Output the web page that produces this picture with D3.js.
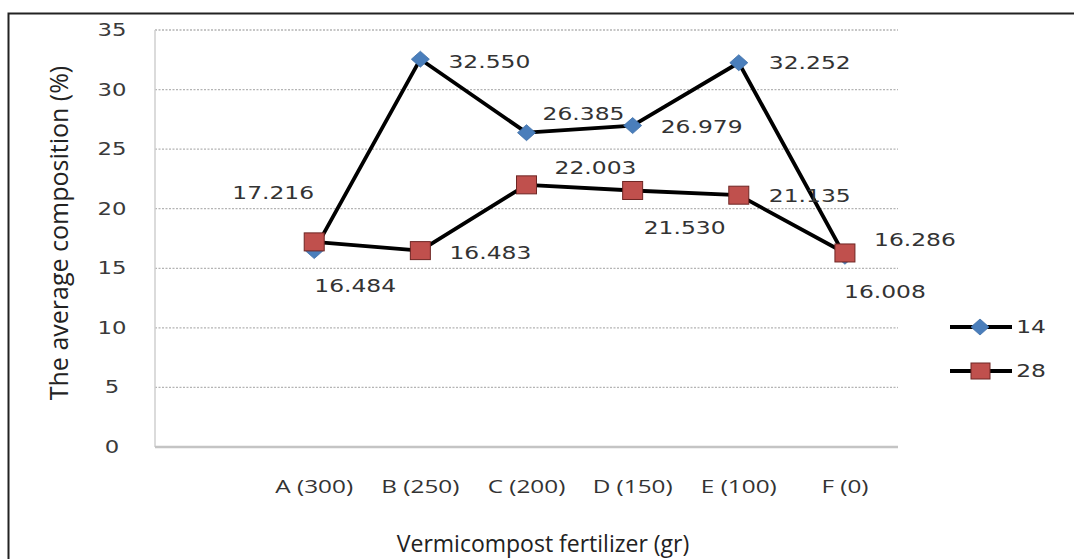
<!DOCTYPE html>
<html><head><meta charset="utf-8">
<script src="https://cdn.jsdelivr.net/npm/d3@7"></script>
<style>body{margin:0;background:#fff}svg{display:block}</style>
</head><body>
<svg id="c" width="1074" height="559"></svg>
<script>
const categories = ["", "A (300)", "B (250)", "C (200)", "D (150)", "E (100)", "F (0)"];
const seriesNames = ["14", "28"];
const series14 = [null, 16.484, 32.550, 26.385, 26.979, 32.252, 16.008];
const series28 = [null, 17.216, 16.483, 22.003, 21.530, 21.135, 16.286];
const yTicks = [0, 5, 10, 15, 20, 25, 30, 35];
// label offsets (styling): centre of label relative to marker
const off14 = [null, [41, 35], [69, 3], [57, -19], [69, 1], [71, 0], [40, 36]];
const off28 = [null, [-41, -49], [70, 2], [69, -17], [52, 37], [71, 1], [70, -13]];

const svg = d3.select("#c");
const W = 1074, H = 559;
svg.append("rect").attr("x", 8.5).attr("y", 13.5).attr("width", W + 20).attr("height", H + 20)
  .attr("fill", "#fff").attr("stroke", "#222").attr("stroke-width", 2);

const m = {l: 155, r: 898, t: 30, b: 447};
const x = d3.scalePoint().domain(categories).range([m.l, m.r]).padding(0.5);
const y = d3.scaleLinear().domain([0, 35]).range([m.b, m.t]);

const DV = "DejaVu Sans, Verdana, sans-serif";
const OS = "Open Sans, sans-serif";
function stxt(g, tx, ty, str, size, sx, fam, fill) {
  return g.append("text").attr("transform", `translate(${tx},${ty}) scale(${sx},1)`)
    .attr("text-anchor", "middle").attr("dominant-baseline", "central")
    .attr("font-family", fam).attr("font-size", size).attr("fill", fill || "#333").text(str);
}

// gridlines
svg.append("g").selectAll("line").data(yTicks.filter(d => d > 0)).join("line")
  .attr("x1", m.l).attr("x2", m.r).attr("y1", d => y(d)).attr("y2", d => y(d))
  .attr("stroke", "#b4b4b4").attr("stroke-width", 1.3).attr("stroke-dasharray", "2,1.5");

// axes
svg.append("line").attr("x1", m.l).attr("x2", m.l).attr("y1", m.t).attr("y2", m.b)
  .attr("stroke", "#cfcfcf").attr("stroke-width", 1.5);
svg.append("line").attr("x1", m.l).attr("x2", m.r).attr("y1", m.b).attr("y2", m.b)
  .attr("stroke", "#c4c4c4").attr("stroke-width", 2.5);

// y tick labels
const gy = svg.append("g");
yTicks.forEach(t => stxt(gy, 112, y(t), d3.format("d")(t), 17.5, 1.3, DV, "#3a3a3a"));

// x tick labels
const gx = svg.append("g");
categories.forEach(c => { if (c) stxt(gx, x(c), 486, c, 19, 1.28, OS, "#333"); });

// titles
stxt(svg, 543, 543, "Vermicompost fertilizer (gr)", 23, 1, OS, "#222");
svg.append("text").attr("transform", "translate(58,233) rotate(-90)").attr("text-anchor", "middle")
  .attr("dominant-baseline", "central")
  .attr("font-family", OS).attr("font-size", 25).attr("fill", "#222")
  .text("The average composition (%)");

const line = d3.line().x(d => x(d.c)).y(d => y(d.v));
function pts(vals) { return categories.map((c, i) => ({c, v: vals[i], i})).filter(d => d.v != null); }
const d14 = pts(series14), d28 = pts(series28);
const diamondPath = "M0,-8L9,0L0,8L-9,0Z";

function drawLine(data) {
  svg.append("path").datum(data).attr("d", line).attr("fill", "none")
    .attr("stroke", "#000").attr("stroke-width", 3.8).attr("stroke-linejoin", "round");
}
drawLine(d14); drawLine(d28);

svg.append("g").selectAll("path").data(d14).join("path")
  .attr("d", diamondPath).attr("transform", d => `translate(${x(d.c)},${y(d.v)})`)
  .attr("fill", "#4a7ebb").attr("stroke", "#3d6ea8").attr("stroke-width", 0.8);
svg.append("g").selectAll("rect").data(d28).join("rect")
  .attr("x", d => x(d.c) - 10).attr("y", d => y(d.v) - 9).attr("width", 20).attr("height", 18)
  .attr("fill", "#c0504d").attr("stroke", "#6e2624").attr("stroke-width", 1);

function labels(data, offs) {
  const g = svg.append("g");
  data.forEach(d => stxt(g, x(d.c) + offs[d.i][0], y(d.v) + offs[d.i][1], d.v.toFixed(3), 18, 1.3, DV, "#333"));
}
labels(d14, off14); labels(d28, off28);

// legend
const lg = [{n: seriesNames[0], y: 327, t: "d"}, {n: seriesNames[1], y: 371, t: "s"}];
lg.forEach(l => {
  svg.append("line").attr("x1", 950).attr("x2", 1012).attr("y1", l.y).attr("y2", l.y)
    .attr("stroke", "#000").attr("stroke-width", 3.8);
  if (l.t === "d") svg.append("path").attr("d", diamondPath).attr("transform", `translate(980,${l.y})`)
    .attr("fill", "#4a7ebb").attr("stroke", "#3d6ea8").attr("stroke-width", 0.8);
  else svg.append("rect").attr("x", 971).attr("y", l.y - 8).attr("width", 19).attr("height", 16)
    .attr("fill", "#c0504d").attr("stroke", "#6e2624");
  stxt(svg, 1031, l.y, l.n, 18, 1.3, DV, "#333");
});
</script>
</body></html>
